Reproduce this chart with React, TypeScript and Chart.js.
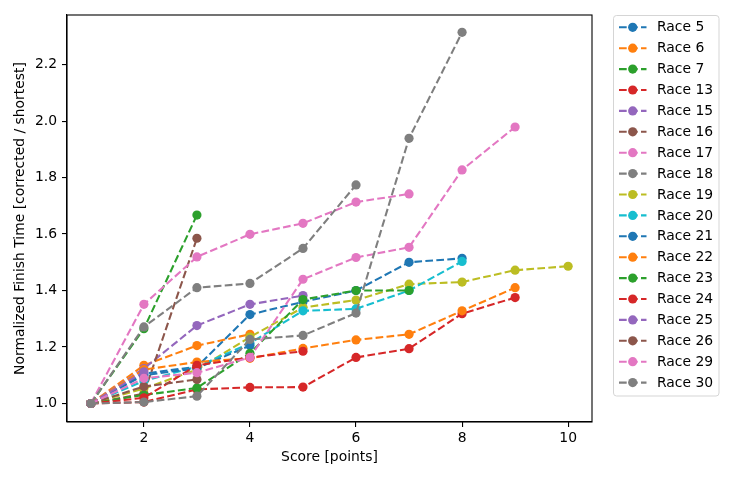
import { useEffect, useRef } from 'react'
import { Chart, registerables } from 'chart.js'

Chart.register(...registerables)

const FONT = 'DejaVu Sans'
const FONT_SIZE = 13.9
const TAB10 = ['#1f77b4', '#ff7f0e', '#2ca02c', '#d62728', '#9467bd', '#8c564b', '#e377c2', '#7f7f7f', '#bcbd22', '#17becf']

// each series starts at score 1, one value per score step
const LABELS = [
  'Race 5', 'Race 6', 'Race 7', 'Race 13', 'Race 15', 'Race 16', 'Race 17', 'Race 18', 'Race 19',
  'Race 20', 'Race 21', 'Race 22', 'Race 23', 'Race 24', 'Race 25', 'Race 26', 'Race 29', 'Race 30',
]
const RACE_5 = [1, 1.106, 1.13, 1.315, 1.36, 1.4, 1.5, 1.514]
const RACE_6 = [1, 1.135, 1.205, 1.245]
const RACE_7 = [1, 1.265, 1.667]
const RACE_13 = [1, 1.005, 1.05, 1.057, 1.058, 1.163, 1.194, 1.318, 1.375]
const RACE_15 = [1, 1.124, 1.276, 1.351, 1.382]
const RACE_16 = [1, 1.035, 1.585]
const RACE_17 = [1, 1.351, 1.519, 1.599, 1.638, 1.713, 1.742]
const RACE_18 = [1, 1.271, 1.41, 1.425, 1.549, 1.774]
const RACE_19 = [1, 1.053, 1.12, 1.235, 1.34, 1.366, 1.4225, 1.43, 1.472, 1.486]
const RACE_20 = [1, 1.08, 1.13, 1.213, 1.328, 1.335, 1.4, 1.503]
const RACE_21 = [1, 1.1, 1.125, 1.205]
const RACE_22 = [1, 1.12, 1.147, 1.16, 1.195, 1.225, 1.245, 1.328, 1.41]
const RACE_23 = [1, 1.03, 1.055, 1.178, 1.368, 1.4, 1.4]
const RACE_24 = [1, 1.02, 1.135, 1.163, 1.185]
const RACE_25 = [1, 1.112]
const RACE_26 = [1, 1.06, 1.085]
const RACE_29 = [1, 1.089, 1.109, 1.163, 1.44, 1.517, 1.553, 1.827, 1.979]
const RACE_30 = [1, 1.005, 1.026, 1.227, 1.241, 1.32, 1.939, 2.314]
const SERIES = [
  RACE_5, RACE_6, RACE_7, RACE_13, RACE_15, RACE_16, RACE_17, RACE_18, RACE_19,
  RACE_20, RACE_21, RACE_22, RACE_23, RACE_24, RACE_25, RACE_26, RACE_29, RACE_30,
]

const X_TICKS = [2, 4, 6, 8, 10]
const Y_TICKS = [1.0, 1.2, 1.4, 1.6, 1.8, 2.0, 2.2]

const DASH = [7.7, 3.3]
const LINE_W = 2.08
const MARKER_R = 4.6

// axes box + legend drawn by hand, matplotlib style
const framePlugin = {
  id: 'frame',
  afterDraw(chart: Chart) {
    const { ctx, chartArea: a } = chart
    ctx.save()
    ctx.strokeStyle = '#000'
    ctx.lineWidth = 1.1
    ctx.strokeRect(a.left, a.top, a.right - a.left, a.bottom - a.top)

    // legend
    const lx = 613.5
    const ly = 15.5
    const lw = 105.5
    const lh = 380.5
    ctx.beginPath()
    ctx.roundRect(lx, ly, lw, lh, 3)
    ctx.fillStyle = 'rgba(255,255,255,0.8)'
    ctx.fill()
    ctx.strokeStyle = '#d5d5d5'
    ctx.lineWidth = 1
    ctx.stroke()

    ctx.font = `${FONT_SIZE}px "${FONT}"`
    ctx.textBaseline = 'middle'
    LABELS.forEach((label, i) => {
      const y = 27.3 + i * 20.9
      const color = TAB10[i % 10]
      ctx.strokeStyle = color
      ctx.lineWidth = LINE_W
      ctx.setLineDash(DASH)
      ctx.beginPath()
      ctx.moveTo(619, y)
      ctx.lineTo(646.5, y)
      ctx.stroke()
      ctx.setLineDash([])
      ctx.fillStyle = color
      ctx.beginPath()
      ctx.arc(632.7, y, MARKER_R, 0, Math.PI * 2)
      ctx.fill()
      ctx.fillStyle = '#000'
      ctx.fillText(label, 657, y + 0.5)
    })
    ctx.restore()
  },
}

export default function App() {
  const canvasRef = useRef<HTMLCanvasElement>(null)
  const chartRef = useRef<Chart | null>(null)

  useEffect(() => {
    if (!canvasRef.current) return
    chartRef.current?.destroy()

    const n = SERIES.length
    const datasets = SERIES.map((vals, i) => {
      const color = TAB10[i % 10]
      return {
        label: LABELS[i],
        data: vals.map((v, j) => ({ x: j + 1, y: v })),
        borderColor: color,
        backgroundColor: color,
        borderWidth: LINE_W,
        borderDash: DASH,
        pointRadius: MARKER_R,
        pointBorderWidth: 0,
        pointBackgroundColor: color,
        pointHoverRadius: MARKER_R,
        tension: 0,
        fill: false,
        order: n - i,
      }
    })

    chartRef.current = new Chart(canvasRef.current, {
      type: 'line',
      data: { datasets },
      options: {
        responsive: false,
        animation: false,
        events: [],
        layout: { padding: { left: 0, top: 15, right: 144, bottom: 0 } },
        plugins: {
          legend: { display: false },
          tooltip: { enabled: false },
        },
        scales: {
          x: {
            type: 'linear',
            min: 0.55,
            max: 10.45,
            afterFit: (s: any) => {
              s.height = 58
            },
            afterBuildTicks: (s: any) => {
              s.ticks = X_TICKS.map((v) => ({ value: v }))
            },
            ticks: {
              color: '#000',
              padding: 3,
              font: { family: FONT, size: FONT_SIZE },
              callback: (v: any) => String(v),
            },
            grid: { drawOnChartArea: false, drawTicks: true, tickLength: 5, color: '#000', lineWidth: 1.1 },
            border: { display: true, color: '#000', width: 1.1 },
            title: {
              display: true,
              text: 'Score [points]',
              color: '#000',
              padding: { top: 0, bottom: 14.7 },
              font: { family: FONT, size: FONT_SIZE },
            },
          },
          y: {
            type: 'linear',
            min: 0.9345,
            max: 2.3755,
            afterFit: (s: any) => {
              s.width = 67
            },
            afterBuildTicks: (s: any) => {
              s.ticks = Y_TICKS.map((v) => ({ value: v }))
            },
            ticks: {
              color: '#000',
              padding: 5,
              font: { family: FONT, size: FONT_SIZE },
              callback: (v: any) => Number(v).toFixed(1),
            },
            grid: { drawOnChartArea: false, drawTicks: true, tickLength: 5, color: '#000', lineWidth: 1.1 },
            border: { display: true, color: '#000', width: 1.1 },
            title: {
              display: true,
              text: 'Normalized Finish Time [corrected / shortest]',
              color: '#000',
              padding: { top: 11.7, bottom: 0 },
              font: { family: FONT, size: FONT_SIZE },
            },
          },
        },
      },
      plugins: [framePlugin],
    })

    return () => {
      chartRef.current?.destroy()
      chartRef.current = null
    }
  }, [])

  return (
    <div style={{ position: 'fixed', left: 0, top: 0, width: 736, height: 480, background: '#fff' }}>
      <canvas ref={canvasRef} width={736} height={480} />
    </div>
  )
}
